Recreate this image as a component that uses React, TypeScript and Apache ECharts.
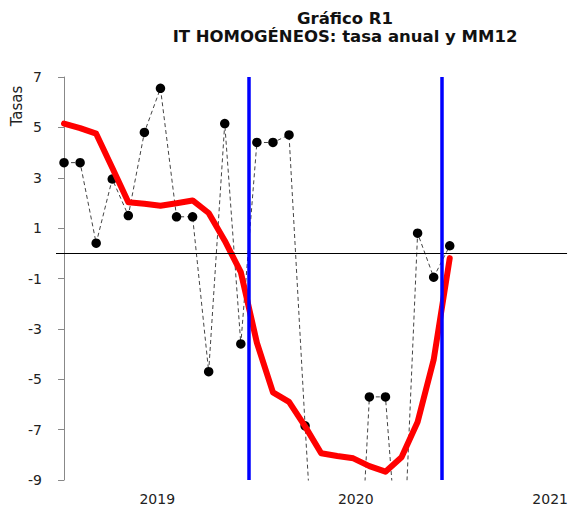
import React, { useEffect, useRef } from "react";
import * as echarts from "echarts";

// Monthly index (0 = first observation)
const tasaAnual = [
  3.6, 3.6, 0.4, 2.95, 1.5, 4.8, 6.55, 1.45, 1.45, -4.7, 5.15, -3.6, 4.4,
  4.4, 4.7, -6.85, -17.5, -22, -18, -5.7, -5.7, -14.1, 0.8, -0.95, 0.3,
];
const mm12 = [
  5.15, 4.97, 4.75, 3.4, 2.03, 1.97, 1.89, 1.99, 2.1, 1.6, 0.5, -0.75, -3.55,
  -5.52, -5.9, -6.87, -7.94, -8.05, -8.14, -8.45, -8.67, -8.1, -6.7, -4.23,
  -0.19,
];
const yearLabels = ["2019", "2020", "2021"];
const yearLabelAt = [5.8, 18.15, 30.25];
const cortes = [11.5, 23.5];
const yTicks = [-9, -7, -5, -3, -1, 1, 3, 5, 7];

const FONT = "DejaVu Sans";

export default function App() {
  const ref = useRef<HTMLDivElement>(null);

  useEffect(() => {
    document.body.style.margin = "0";
    if (!ref.current) return;
    const chart = echarts.init(ref.current, null, { renderer: "svg" });
    const option = {
      animation: false,
      backgroundColor: "#ffffff",
      title: {
        text: "Gráfico R1\nIT HOMOGÉNEOS: tasa anual y MM12",
        left: 340,
        top: 4,
        textAlign: "center",
        textStyle: {
          fontFamily: FONT,
          fontSize: 16.5,
          fontWeight: "bold",
          lineHeight: 18,
          color: "#111",
        },
      },
      graphic: [
        {
          type: "text",
          x: 17,
          y: 106,
          rotation: Math.PI / 2,
          style: {
            text: "Tasas",
            fontFamily: FONT,
            fontSize: 15,
            fill: "#222",
            align: "center",
            verticalAlign: "middle",
          },
        },
      ],
      grid: { left: 56, top: 77, bottom: 29, right: 1, containLabel: false },
      xAxis: {
        type: "value",
        min: -0.5,
        max: 31.3,
        axisLine: { show: false },
        axisTick: { show: false },
        splitLine: { show: false },
        axisLabel: {
          customValues: yearLabelAt,
          formatter: (v: number) => {
            const i = yearLabelAt.findIndex((p) => Math.abs(p - v) < 0.01);
            return i >= 0 ? yearLabels[i] : "";
          },
          margin: 12,
          fontFamily: FONT,
          fontSize: 14,
          color: "#222",
        },
      },
      yAxis: {
        type: "value",
        min: -9,
        max: 7,
        axisLine: { show: true, lineStyle: { color: "#888", width: 1 } },
        axisTick: {
          show: true,
          customValues: yTicks,
          length: 6,
          lineStyle: { color: "#888" },
        },
        splitLine: { show: false },
        axisLabel: {
          customValues: yTicks,
          margin: 14,
          fontFamily: FONT,
          fontSize: 14,
          color: "#222",
        },
      },
      series: [
        {
          name: "tasa anual",
          type: "line",
          z: 2,
          data: tasaAnual.map((v, i) => [i, v]),
          symbol: "circle",
          symbolSize: 9.5,
          itemStyle: { color: "#000" },
          lineStyle: { color: "#444", width: 1, type: [4, 3] },
          clip: true,
          markLine: {
            silent: true,
            symbol: "none",
            label: { show: false },
            animation: false,
            data: [
              { yAxis: 0, lineStyle: { color: "#000", width: 1, type: "solid" } },
              ...cortes.map((c) => ({
                xAxis: c,
                lineStyle: { color: "#0000ff", width: 3.5, type: "solid" },
              })),
            ],
          },
        },
        {
          name: "MM12",
          type: "line",
          z: 3,
          data: mm12.map((v, i) => [i, v]),
          symbol: "none",
          lineStyle: { color: "#ff0000", width: 6, cap: "round", join: "round" },
          clip: true,
        },
      ],
    };
    chart.setOption(option as any);
    return () => chart.dispose();
  }, []);

  return <div ref={ref} style={{ width: 571, height: 509 }} />;
}
